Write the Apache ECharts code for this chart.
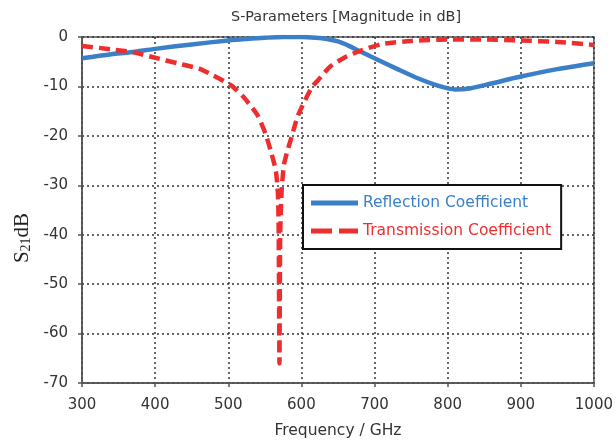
<!DOCTYPE html>
<html>
<head>
<meta charset="utf-8">
<script src="https://cdn.jsdelivr.net/npm/echarts@6/dist/echarts.min.js"></script>
<style>
  html, body { margin: 0; padding: 0; background: #fff; }
  #chart { width: 616px; height: 446px; }
</style>
</head>
<body>
<div id="chart"></div>
<script>
// Frequency sweep (GHz) and magnitudes (dB) for both S-parameters
const reflFreq = [300, 340, 366, 400, 450, 500, 525, 550, 575, 600, 620, 635, 650, 665, 680, 700, 730, 760, 790, 810, 830, 860, 900, 950, 1000];
const reflDb   = [-4.3, -3.5, -3.1, -2.4, -1.5, -0.7, -0.4, -0.15, 0, 0, -0.15, -0.4, -0.9, -1.8, -2.9, -4.3, -6.4, -8.4, -10.0, -10.6, -10.4, -9.4, -8.0, -6.5, -5.3];

const transFreq = [300, 340, 370, 400, 430, 460, 480, 504, 520, 530, 540, 551, 558, 565, 568, 569, 570, 571, 573, 576, 580, 587, 595, 605, 615, 623, 639, 661, 684, 711, 750, 800, 850, 900, 950, 1000];
const transDb   = [-1.8, -2.5, -3.1, -4.2, -5.3, -6.4, -7.8, -9.8, -12, -13.8, -15.8, -19.6, -23, -27, -32, -40, -66, -40, -31, -26, -23.5, -20, -16, -12.8, -10, -8.7, -6.0, -4.0, -2.6, -1.4, -0.8, -0.5, -0.5, -0.7, -1.0, -1.6];

const xTicks = { min: 300, max: 1000, step: 100 };
const yTicks = { min: -70, max: 0, step: 10 };

const seriesNames = ['Reflection Coefficient', 'Transmission Coefficient'];
const blue = '#3a7fc8';
const red = '#ee2e2e';
const font = 'DejaVu Sans';

const pairs = (xs, ys) => xs.map((x, i) => [x, ys[i]]);

// legend keys: a solid bar and a two-dash bar
const solidKey = 'path://M0,0H47V5H0Z';
const dashKey = 'path://M0,0H21V5H0Z M28,0H47V5H28Z';

const chart = echarts.init(document.getElementById('chart'));
chart.setOption({
  animation: false,
  backgroundColor: '#ffffff',
  title: {
    text: 'S-Parameters [Magnitude in dB]',
    left: 341, top: 5, textAlign: 'center',
    textStyle: { fontFamily: font, fontSize: 14.4, fontWeight: 'normal', color: '#333' }
  },
  grid: {
    left: 82, right: 15, top: 37, bottom: 63,
    show: true, borderColor: '#555', borderWidth: 1.5, backgroundColor: 'transparent'
  },
  legend: {
    orient: 'vertical',
    left: 303, top: 185,
    backgroundColor: '#ffffff',
    borderColor: '#111',
    borderWidth: 2,
    borderRadius: 0,
    padding: [10, 10, 10, 8],
    itemWidth: 47, itemHeight: 5, itemGap: 12,
    textStyle: { fontFamily: font, fontSize: 15.5 },
    data: [
      { name: seriesNames[0], icon: solidKey, textStyle: { color: blue } },
      { name: seriesNames[1], icon: dashKey, textStyle: { color: red } }
    ]
  },
  xAxis: {
    type: 'value',
    min: xTicks.min, max: xTicks.max, interval: xTicks.step,
    name: 'Frequency / GHz',
    nameLocation: 'middle', nameGap: 40,
    nameTextStyle: { fontFamily: font, fontSize: 15.5, color: '#333' },
    axisLine: { onZero: false, lineStyle: { color: '#555', width: 1.5 } },
    axisTick: { show: true, length: 4, lineStyle: { color: '#555', width: 1.5 } },
    axisLabel: { fontFamily: font, fontSize: 15, color: '#333', margin: 15, formatter: v => String(v) },
    splitLine: { show: true, lineStyle: { color: '#333', width: 1.5, type: [2, 3] } }
  },
  yAxis: {
    type: 'value',
    min: yTicks.min, max: yTicks.max, interval: yTicks.step,
    axisLine: { show: true, onZero: false, lineStyle: { color: '#555', width: 1.5 } },
    axisTick: { show: true, length: 4, lineStyle: { color: '#555', width: 1.5 } },
    axisLabel: { fontFamily: font, fontSize: 15, color: '#333', margin: 14 },
    splitLine: { show: true, lineStyle: { color: '#333', width: 1.5, type: [2, 3] } }
  },
  graphic: [
    {
      type: 'text', x: 22, y: 238, rotation: Math.PI / 2, z: 10,
      style: {
        text: '{a|S}{b|21}{a|dB}',
        align: 'center', verticalAlign: 'middle',
        rich: {
          a: { fontFamily: 'Liberation Serif', fontSize: 21, fill: '#222' },
          b: { fontFamily: 'Liberation Serif', fontSize: 14, fill: '#222', padding: [8, 0, 0, 0] }
        }
      }
    }
  ],
  series: [
    {
      name: seriesNames[0], type: 'line', data: pairs(reflFreq, reflDb),
      showSymbol: false, symbol: 'none', smooth: 0.3,
      lineStyle: { color: blue, width: 4.5 },
      itemStyle: { color: blue }, z: 3
    },
    {
      name: seriesNames[1], type: 'line', data: pairs(transFreq, transDb),
      showSymbol: false, symbol: 'none', smooth: 0.2,
      lineStyle: { color: red, width: 4.5, type: [11, 6] },
      itemStyle: { color: red }, z: 4
    }
  ]
});
</script>
</body>
</html>
